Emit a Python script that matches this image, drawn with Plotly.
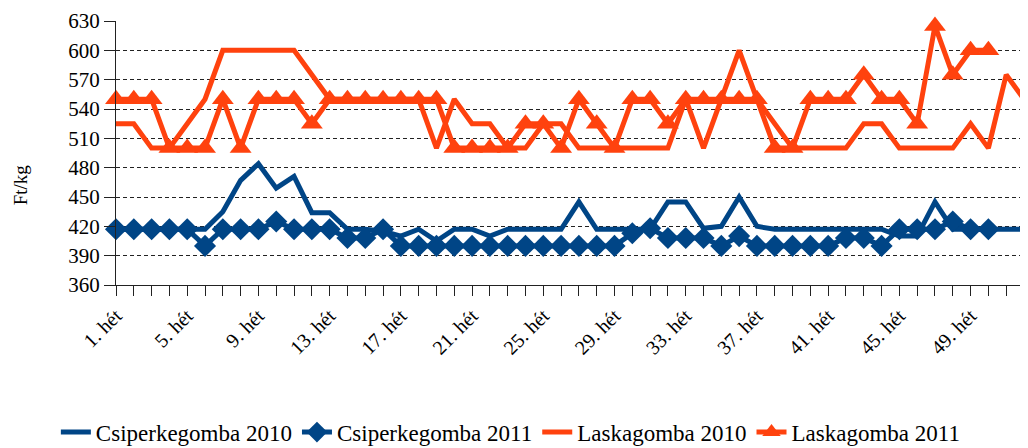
import plotly.graph_objects as go

weeks = list(range(1, 53))
week_labels = [f"{w}. hét" for w in weeks]

csiperke_2010 = [417, 417, 417, 417, 417, 417, 435, 467, 484, 459,
                 471, 434, 434, 417, 417, 415, 410, 417, 405, 417,
                 417, 410, 417, 417, 417, 417, 445, 417, 417, 417,
                 417, 445, 445, 418, 420, 450, 420, 417, 417, 417,
                 417, 417, 417, 417, 410, 410, 445, 417, 417, 417,
                 417, 417]
csiperke_2011 = [417, 417, 417, 417, 417, 400, 417, 417, 417, 425,
                 417, 417, 417, 408, 408, 417, 400, 400, 400, 400,
                 400, 400, 400, 400, 400, 400, 400, 400, 400, 413,
                 418, 408, 408, 408, 400, 410, 400, 400, 400, 400,
                 400, 408, 408, 400, 417, 417, 417, 425, 417, 417,
                 None, None]
laska_2010 = [525, 525, 500, 500, 525, 550, 600, 600, 600, 600,
              600, 575, 550, 550, 550, 550, 550, 550, 500, 550,
              525, 525, 500, 500, 525, 525, 500, 500, 500, 500,
              500, 500, 550, 500, 550, 600, 550, 525, 500, 500,
              500, 500, 525, 525, 500, 500, 500, 500, 525, 500,
              575, 550]
laska_2011 = [550, 550, 550, 500, 500, 500, 550, 500, 550, 550,
              550, 525, 550, 550, 550, 550, 550, 550, 550, 500,
              500, 500, 500, 525, 525, 500, 550, 525, 500, 550,
              550, 525, 550, 550, 550, 550, 550, 500, 500, 550,
              550, 550, 575, 550, 550, 525, 625, 575, 600, 600,
              None, None]

series_names = ["Csiperkegomba 2010", "Csiperkegomba 2011",
                "Laskagomba 2010", "Laskagomba 2011"]
y_ticks = [360, 390, 420, 450, 480, 510, 540, 570, 600, 630]

BLUE = "#004586"
ORANGE = "#FF420E"
FONT = "Liberation Serif"

fig = go.Figure()
fig.add_trace(go.Scatter(x=weeks, y=csiperke_2010, name=series_names[0], mode="lines",
                         line=dict(color=BLUE, width=5), cliponaxis=False))
fig.add_trace(go.Scatter(x=weeks, y=csiperke_2011, name=series_names[1], mode="lines+markers",
                         line=dict(color=BLUE, width=5),
                         marker=dict(symbol="diamond", size=17, color=BLUE), cliponaxis=False))
fig.add_trace(go.Scatter(x=weeks, y=laska_2010, name=series_names[2], mode="lines",
                         line=dict(color=ORANGE, width=5), cliponaxis=False))
fig.add_trace(go.Scatter(x=weeks, y=laska_2011, name=series_names[3], mode="lines+markers",
                         line=dict(color=ORANGE, width=5),
                         marker=dict(symbol="triangle-up", size=19, color=ORANGE), cliponaxis=False))

ticktext = [lab if (w - 1) % 4 == 0 else "" for w, lab in zip(weeks, week_labels)]

# page body has an 8px margin, so the figure is sized to fit inside the window
fig.update_layout(
    width=1020, height=440,
    margin=dict(l=108, r=4, t=13, b=163, autoexpand=False),
    paper_bgcolor="white", plot_bgcolor="white",
    font=dict(family=FONT, size=20, color="black"),
    showlegend=True,
    legend=dict(orientation="h", xref="container", yref="container",
                x=0.493, xanchor="center", y=0.036, yanchor="middle",
                font=dict(family=FONT, size=23, color="black"),
                itemwidth=30, tracegroupgap=0, bgcolor="rgba(0,0,0,0)"),
    xaxis=dict(range=[1, 52], tickmode="array", tickvals=weeks, ticktext=ticktext,
               tickangle=-45, ticks="outside", ticklen=10, tickcolor="#222",
               showline=True, linecolor="#222", linewidth=1.3, showgrid=False,
               zeroline=False, automargin=False, tickfont=dict(family=FONT, size=20)),
    yaxis=dict(range=[360, 630], tickmode="array", tickvals=y_ticks,
               ticks="outside", ticklen=11, tickcolor="#222",
               showline=True, linecolor="#222", linewidth=1.3,
               showgrid=True, gridcolor="#222", gridwidth=1, griddash="4px,3px",
               zeroline=False, automargin=False, tickfont=dict(family=FONT, size=21)),
    annotations=[dict(text="Ft/kg", xref="paper", yref="paper", x=-0.118, y=0.379,
                      textangle=-90, showarrow=False, xanchor="left", yanchor="middle",
                      font=dict(family=FONT, size=19, color="black"))],
)

fig.write_html("out.html")
